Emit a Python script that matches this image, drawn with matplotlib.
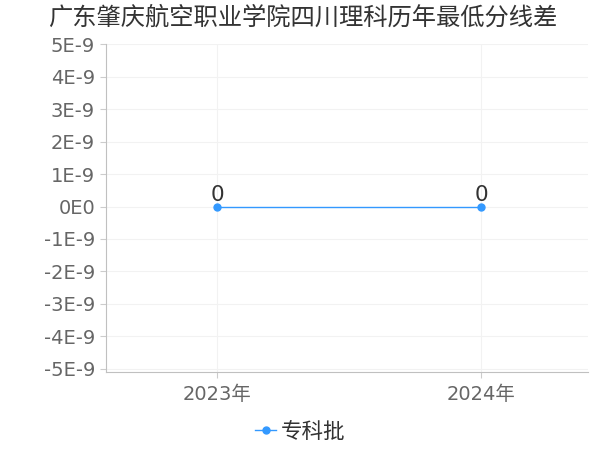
import matplotlib.pyplot as plt
from matplotlib.ticker import FuncFormatter

plt.rcParams['font.family'] = ['DejaVu Sans', 'Noto Sans CJK SC']

# 数据
anos = ['2023年', '2024年']
zhuanke = [0, 0]
y_ticks = [i * 1e-9 for i in range(-5, 6)]

fig = plt.figure(figsize=(6, 4.5), dpi=100)
ax = fig.add_axes([0.177, 0.173, 0.803, 0.729])

x = list(range(len(anos)))
ax.plot(x, zhuanke, color='#3399ff', marker='o', markersize=5, linewidth=1, label='专科批')
for xi, v in zip(x, zhuanke):
    ax.text(xi, v + 0.05e-9, str(v), ha='center', va='bottom', fontsize=15.5, color='#333333')

ax.set_xlim(-0.42, 1.405)
ax.set_ylim(-5.1e-9, 5e-9)
ax.set_xticks(x)
ax.set_xticklabels(anos)
ax.set_yticks(y_ticks)


def fmt(v, pos):
    n = int(round(v / 1e-9))
    return '0E0' if n == 0 else f'{n}E-9'


ax.yaxis.set_major_formatter(FuncFormatter(fmt))
ax.yaxis.get_offset_text().set_visible(False)
ax.tick_params(axis='both', colors='#666666', labelsize=14, length=4, color='#cccccc')
ax.tick_params(axis='x', pad=5)
ax.tick_params(axis='y', pad=4)
ax.grid(True, color='#f2f2f2', linewidth=0.8)
for s in ['top', 'right']:
    ax.spines[s].set_visible(False)
for s in ['left', 'bottom']:
    ax.spines[s].set_color('#c0c0c0')

fig.text(0.08, 0.96, '广东肇庆航空职业学院四川理科历年最低分线差', fontsize=17.5, color='#333333',
         ha='left', va='center', family=['Noto Sans CJK SC', 'DejaVu Sans'])
fig.legend(loc='center', bbox_to_anchor=(0.5, 0.04), frameon=False,
           prop={'family': ['Noto Sans CJK SC', 'DejaVu Sans'], 'size': 15.5},
           handlelength=1.0, handletextpad=0.2, labelcolor='#333333')

fig.savefig('out.png')
